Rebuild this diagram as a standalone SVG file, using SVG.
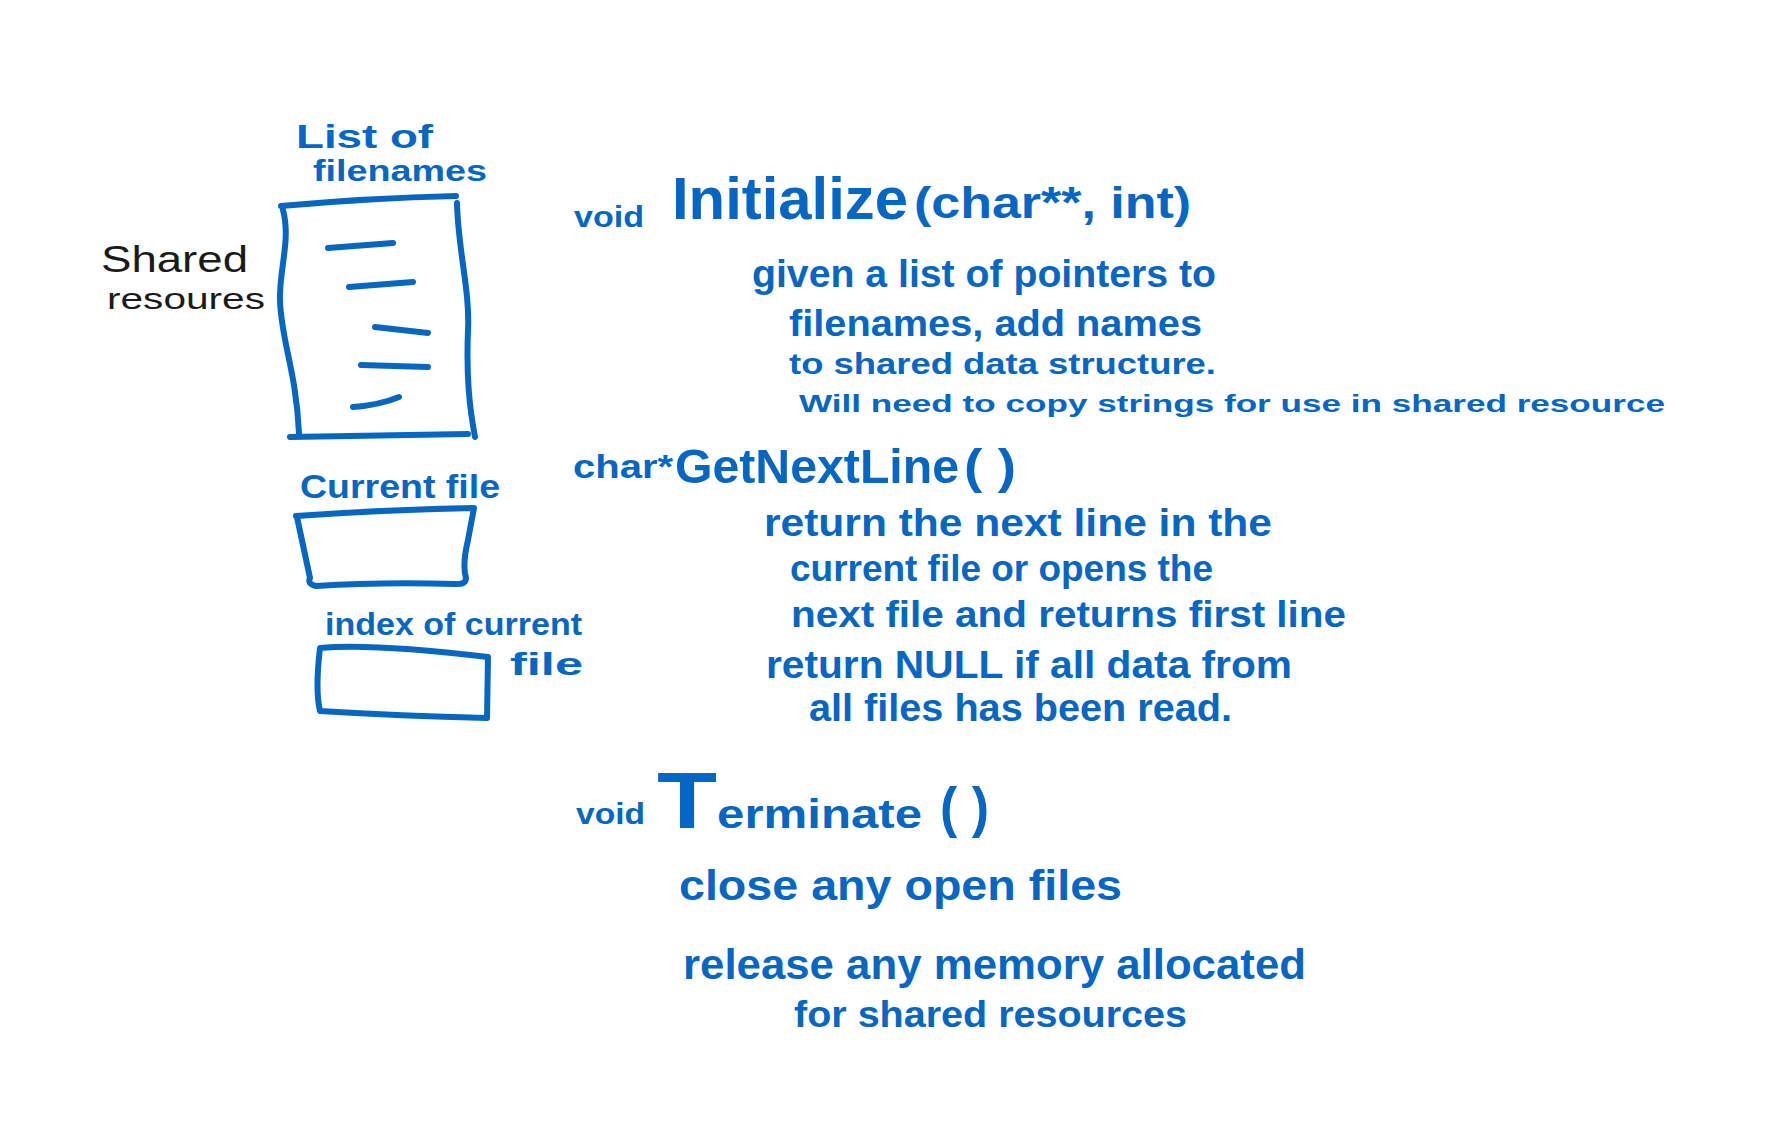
<svg xmlns="http://www.w3.org/2000/svg" width="1765" height="1136" viewBox="0 0 1765 1136">
<style>
.ink{fill:#0766C2;font-family:"Liberation Sans",Arial,sans-serif;font-weight:bold}
.pencil{fill:#1a1a1a;font-family:"Liberation Sans",Arial,sans-serif;font-weight:normal}
.pen{fill:none;stroke:#0766C2;stroke-width:6;stroke-linecap:round;stroke-linejoin:round}
</style>
<rect width="1765" height="1136" fill="#ffffff"/>
<g id="connectors"></g>
<g id="shared-resources-label">
<text class="pencil" x="101" y="272" font-size="36" textLength="147" lengthAdjust="spacingAndGlyphs">Shared</text>
<text class="pencil" x="107" y="309" font-size="30" textLength="158" lengthAdjust="spacingAndGlyphs">resoures</text>
</g>
<g id="list-of-filenames">
<text class="ink" x="296" y="148" font-size="34" textLength="137" lengthAdjust="spacingAndGlyphs">List of</text>
<text class="ink" x="313" y="181" font-size="30" textLength="174" lengthAdjust="spacingAndGlyphs">filenames</text>
<path class="pen" d="M281,206 Q370,198 456,196"/>
<path class="pen" d="M283,210 C291,240 279,270 280,300 C281,340 296,370 299,433"/>
<path class="pen" d="M457,203 C458,250 470,290 468,330 C466,380 470,410 475,437"/>
<path class="pen" d="M290,437 L468,434"/>
<path class="pen" d="M328,248 L393,243"/>
<path class="pen" d="M349,287 L413,282"/>
<path class="pen" d="M375,327 L428,333"/>
<path class="pen" d="M361,365 L428,367"/>
<path class="pen" d="M353,407 Q380,405 399,397"/>
</g>
<g id="current-file">
<text class="ink" x="300" y="498" font-size="34" textLength="200" lengthAdjust="spacingAndGlyphs">Current file</text>
<path class="pen" d="M296,516 Q380,510 474,508 L468,540 Q462,565 466,578 Q466,585 455,584 Q380,582 316,586 Q307,584 310,578 L297,517"/>
</g>
<g id="index-of-current-file">
<text class="ink" x="325" y="635" font-size="32" textLength="257" lengthAdjust="spacingAndGlyphs">index of current</text>
<text class="ink" x="510" y="675" font-size="32" textLength="73" lengthAdjust="spacingAndGlyphs">file</text>
<path class="pen" d="M320,648 Q370,643 488,657 L487,718 Q400,716 320,711 Q315,690 320,648 Z"/>
</g>
<g id="initialize">
<text class="ink" x="574" y="227" font-size="30" textLength="70" lengthAdjust="spacingAndGlyphs">void</text>
<text class="ink" x="672" y="219" font-size="60" font-weight="normal" textLength="236" lengthAdjust="spacingAndGlyphs">Initialize</text>
<text class="ink" x="914" y="218" font-size="44" textLength="277" lengthAdjust="spacingAndGlyphs">(char**, int)</text>
<text class="ink" x="752" y="287" font-size="38" textLength="464" lengthAdjust="spacingAndGlyphs">given a list of pointers to</text>
<text class="ink" x="789" y="336" font-size="36" textLength="413" lengthAdjust="spacingAndGlyphs">filenames, add names</text>
<text class="ink" x="789" y="374" font-size="30" textLength="427" lengthAdjust="spacingAndGlyphs">to shared data structure.</text>
<text class="ink" x="799" y="412" font-size="24" textLength="866" lengthAdjust="spacingAndGlyphs">Will need to copy strings for use in shared resource</text>
</g>
<g id="getnextline">
<text class="ink" x="573" y="478" font-size="34" textLength="100" lengthAdjust="spacingAndGlyphs">char*</text>
<text class="ink" x="675" y="483" font-size="48" font-weight="normal" textLength="284" lengthAdjust="spacingAndGlyphs">GetNextLine</text>
<text class="ink" x="964" y="483" font-size="48" font-weight="normal" textLength="52" lengthAdjust="spacingAndGlyphs">( )</text>
<text class="ink" x="764" y="536" font-size="38" textLength="508" lengthAdjust="spacingAndGlyphs">return the next line in the</text>
<text class="ink" x="790" y="581" font-size="36" textLength="423" lengthAdjust="spacingAndGlyphs">current file or opens the</text>
<text class="ink" x="791" y="627" font-size="36" textLength="555" lengthAdjust="spacingAndGlyphs">next file and returns first line</text>
<text class="ink" x="766" y="678" font-size="38" textLength="526" lengthAdjust="spacingAndGlyphs">return NULL if all data from</text>
<text class="ink" x="809" y="721" font-size="38" textLength="423" lengthAdjust="spacingAndGlyphs">all files has been read.</text>
</g>
<g id="terminate">
<text class="ink" x="576" y="824" font-size="30" textLength="69" lengthAdjust="spacingAndGlyphs">void</text>
<text class="ink" x="657" y="828" font-weight="normal" textLength="265" lengthAdjust="spacingAndGlyphs"><tspan font-size="80">T</tspan><tspan font-size="40" font-weight="bold">erminate</tspan></text>
<text class="ink" x="940" y="826" font-size="56" font-weight="normal" textLength="49" lengthAdjust="spacingAndGlyphs">( )</text>
<text class="ink" x="679" y="900" font-size="42" textLength="443" lengthAdjust="spacingAndGlyphs">close any open files</text>
<text class="ink" x="683" y="979" font-size="42" textLength="623" lengthAdjust="spacingAndGlyphs">release any memory allocated</text>
<text class="ink" x="794" y="1027" font-size="36" textLength="393" lengthAdjust="spacingAndGlyphs">for shared resources</text>
</g>
</svg>
